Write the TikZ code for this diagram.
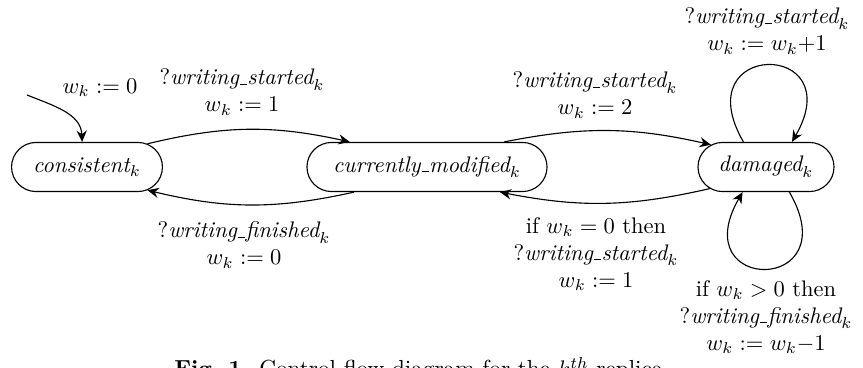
\documentclass[tikz,border=0pt]{standalone}
\usetikzlibrary{arrows.meta,shapes.misc}
\makeatletter
\newcommand{\usc}{\leavevmode\kern.06em\vbox{\hrule\@width.3em}\kern.02em}
\makeatother
\begin{document}
\begin{tikzpicture}[x=0.444pt,y=0.444pt,
  state/.style={rounded rectangle, draw, line width=0.5pt, minimum height=21.8pt, inner xsep=0pt},
  lbl/.style={align=center, inner sep=0pt},
  trans/.style={-{Stealth[length=5pt,width=4.5pt]}, line width=0.5pt}]
\useasboundingbox (0,0) rectangle (863,367);
\clip (0,0) rectangle (863,367);
\node[state, minimum width=67pt] (c) at (87,200) {$\textit{consistent}_k$};
\node[state, minimum width=106.6pt] (m) at (427,200) {$\textit{currently\usc modified}_k$};
\node[state, minimum width=60.4pt] (d) at (766,200) {$\textit{damaged}_k$};
\coordinate (i0) at (27,272);
\draw[trans] (i0) to[out=-22,in=92] (c.101);
\node[lbl] (l0) at (100,279) {$w_k := 0$};
\draw[trans] (c.21) to[bend left=13] (m.162);
\node[lbl] (l1) at (242,275) {$?\textit{writing\usc started}_k$\\$w_k := 1$};
\draw[trans] (m.199) to[bend left=13] (c.-21);
\node[lbl] (l2) at (244,122) {$?\textit{writing\usc finished}_k$\\$w_k := 0$};
\draw[trans] (m.18) to[bend left=12] (d.158);
\node[lbl] (l3) at (595,272) {$?\textit{writing\usc started}_k$\\$w_k := 2$};
\draw[trans] (d.201) to[bend left=12] (m.-19);
\node[lbl] (l4) at (596,113) {if $w_k = 0$ then\\$?\textit{writing\usc started}_k$\\$w_k := 1$};
\draw[trans] (d.132) .. controls +(120:118) and +(60:118) .. (d.44);
\node[lbl] (l5) at (767,336) {$?\textit{writing\usc started}_k$\\$w_k := w_k{+}1$};
\draw[trans] (d.-47) .. controls +(-60:118) and +(-120:118) .. (d.227);
\node[lbl] (l6) at (766,50) {if $w_k > 0$ then\\$?\textit{writing\usc finished}_k$\\$w_k := w_k{-}1$};
\node[anchor=north, inner sep=0pt, font=\fontsize{10.3}{12}\selectfont] (cap) at (419,10) {\textbf{Fig.\ 1.} Control flow diagram for the $k^{th}$ replica};
\end{tikzpicture}
\end{document}
